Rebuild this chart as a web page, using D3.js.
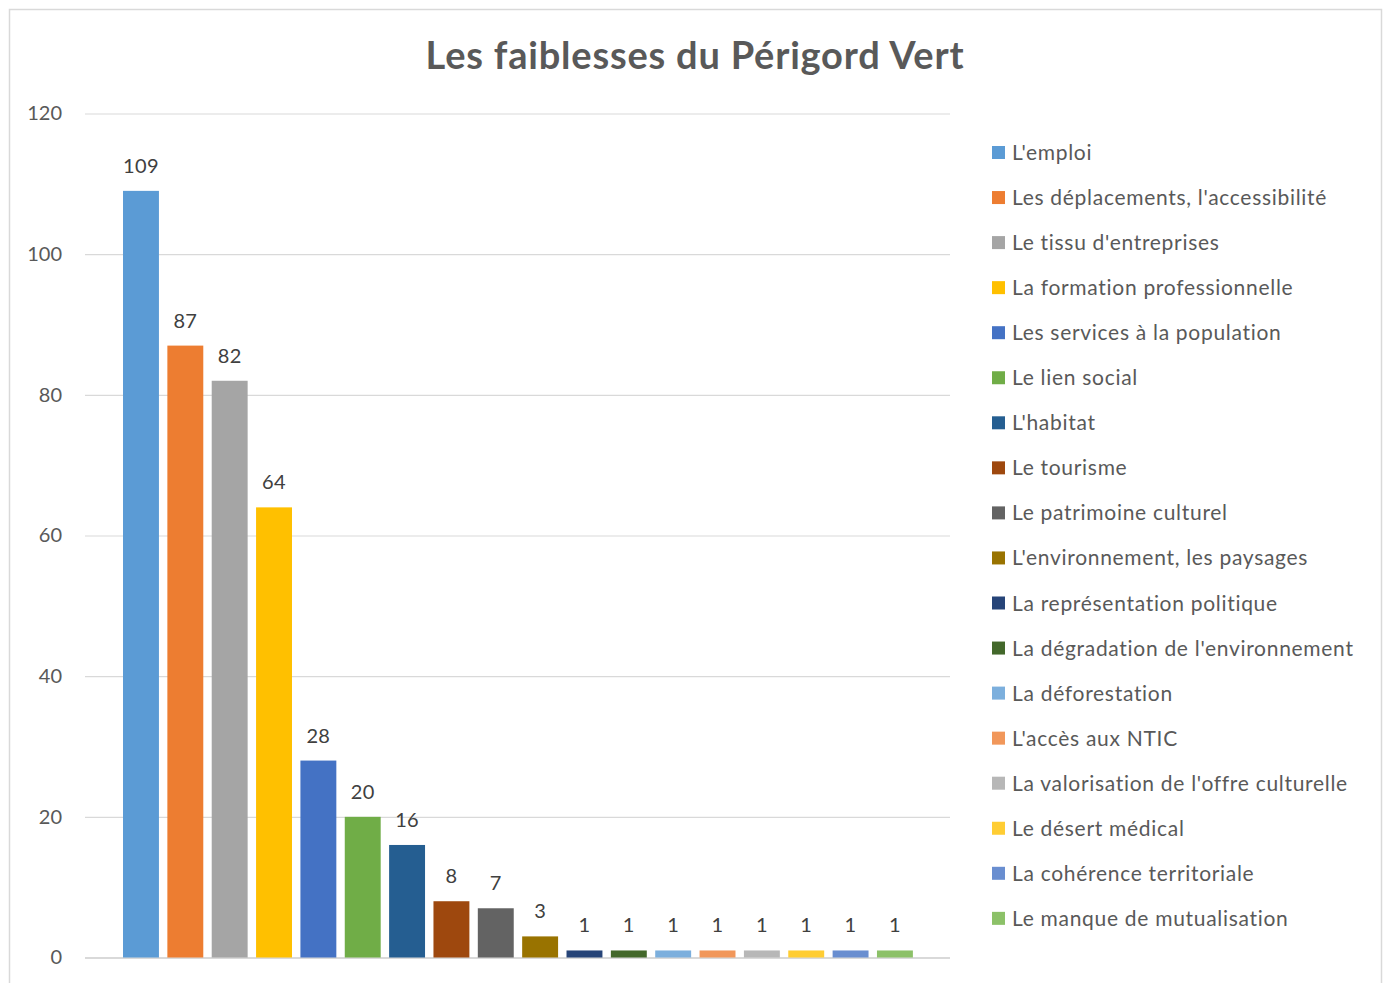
<!DOCTYPE html>
<html><head><meta charset="utf-8">
<script src="https://cdn.jsdelivr.net/npm/d3@7"></script>
<style>
body{margin:0;background:#fff;}
svg{display:block;font-family:Lato, "Open Sans", sans-serif;}
</style></head>
<body>
<svg id="c" width="1387" height="983"></svg>
<script>
const categories = ["L'emploi","Les déplacements, l'accessibilité","Le tissu d'entreprises","La formation professionnelle","Les services à la population","Le lien social","L'habitat","Le tourisme","Le patrimoine culturel","L'environnement, les paysages","La représentation politique","La dégradation de l'environnement","La déforestation","L'accès aux NTIC","La valorisation de l'offre culturelle","Le désert médical","La cohérence territoriale","Le manque de mutualisation"];
const values = [109,87,82,64,28,20,16,8,7,3,1,1,1,1,1,1,1,1];
const colors = ["#5B9BD5","#ED7D31","#A5A5A5","#FFC000","#4472C4","#70AD47","#255E91","#9E480E","#636363","#997300","#264478","#43682B","#7CAFDD","#F1975A","#B7B7B7","#FFCD33","#698ED0","#8CC168"];
const yTicks = [0,20,40,60,80,100,120];
const title = "Les faiblesses du Périgord Vert";

const svg = d3.select("#c");
svg.append("rect").attr("x",9.5).attr("y",9.5).attr("width",1372).attr("height",990)
  .attr("fill","#fff").attr("stroke","#d9d9d9").attr("stroke-width",1.5);

const y = d3.scaleLinear().domain([0,120]).range([957.5,113.5]);
const x = d3.scaleBand().domain(categories).range([118.8,917.1]).paddingInner(0.19).paddingOuter(0.095);

svg.append("text").attr("x",695).attr("y",69).attr("text-anchor","middle")
  .attr("font-size",38).attr("letter-spacing",0.8).attr("font-weight","bold").attr("fill","#595959").text(title);

const yAxis = d3.axisLeft(y).tickValues(yTicks).tickSize(-865).tickPadding(23);
const gy = svg.append("g").attr("transform","translate(85,0)").call(yAxis);
gy.select(".domain").remove();
gy.selectAll(".tick line").attr("stroke","#d9d9d9").attr("stroke-width",1.2);
gy.selectAll(".tick text").attr("font-size",20).attr("fill","#595959").attr("font-family","Lato, sans-serif");
gy.selectAll(".tick").filter(d=>d===0).select("line").attr("stroke-width",1.8);

svg.append("g").selectAll("rect").data(values).join("rect")
  .attr("x",(d,i)=>x(categories[i])).attr("width",x.bandwidth())
  .attr("y",d=>y(d)).attr("height",d=>y(0)-y(d))
  .attr("fill",(d,i)=>colors[i]);

svg.append("g").selectAll("text").data(values).join("text")
  .attr("x",(d,i)=>x(categories[i])+x.bandwidth()/2).attr("y",d=>y(d)-18)
  .attr("text-anchor","middle").attr("font-size",20).attr("letter-spacing",0.3).attr("fill","#404040").text(d=>d);

const leg = svg.append("g").selectAll("g").data(categories).join("g")
  .attr("transform",(d,i)=>`translate(992,${153+i*45.05})`);
leg.append("rect").attr("x",0).attr("y",-7).attr("width",13).attr("height",13).attr("fill",(d,i)=>colors[i]);
leg.append("text").attr("x",20).attr("y",7).attr("font-size",21).attr("letter-spacing",0.7).attr("fill","#595959").text(d=>d);
</script>
</body></html>
